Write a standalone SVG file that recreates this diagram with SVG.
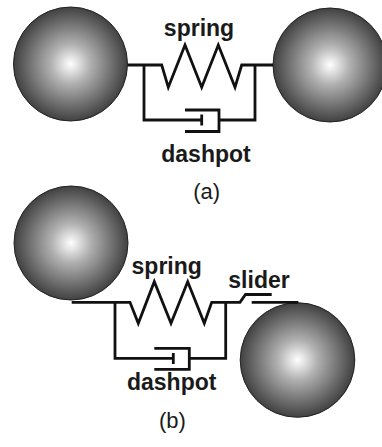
<svg xmlns="http://www.w3.org/2000/svg" width="382" height="447" viewBox="0 0 382 447">
  <style>
    .wire { fill: none; stroke: #111; stroke-width: 2.8; stroke-linejoin: miter; stroke-linecap: butt; }
    .ball { fill: url(#shade); stroke: #222; stroke-width: 1; }
    .lbl { font-family: "Liberation Sans", Arial, sans-serif; font-weight: bold; font-size: 23px; fill: #1a1a1a; text-anchor: middle; }
    .cap { font-family: "Liberation Sans", Arial, sans-serif; font-size: 22px; fill: #1a1a1a; text-anchor: middle; }
  </style>
  <defs>
    <radialGradient id="shade" cx="0.5" cy="0.5" r="0.5">
      <stop offset="0" stop-color="#ffffff"/>
      <stop offset="0.35" stop-color="#b0b0b0"/>
      <stop offset="1" stop-color="#414141"/>
    </radialGradient>
  </defs>
  <rect width="382" height="447" fill="#ffffff"/>

  <!-- (a) two particles joined by a spring and dashpot in parallel -->
  <g id="a-ball-left"><circle class="ball" cx="70.5" cy="64" r="57"/></g>
  <g id="a-ball-right"><circle class="ball" cx="330" cy="65" r="57"/></g>
  <g id="a-connectors">
    <polyline class="wire" points="127.5,65 161.7,65 168.3,87.3 185,45 201.7,87.3 218.3,45 235,87.3 241.7,65 273,65"/>
    <polyline class="wire" points="144,65 144,120 201.7,120"/>
    <line class="wire" x1="201.7" y1="114.5" x2="201.7" y2="125.5"/>
    <polyline class="wire" points="185,110 219,110 219,131.5 185,131.5"/>
    <polyline class="wire" points="219,120 255,120 255,65"/>
  </g>
  <g id="a-labels">
    <text class="lbl" x="199" y="36">spring</text>
    <text class="lbl" x="206" y="161.5">dashpot</text>
    <text class="cap" x="206.7" y="198.5">(a)</text>
  </g>

  <!-- (b) same pair with a slider in series -->
  <g id="b-ball-left"><circle class="ball" cx="71" cy="243" r="57"/></g>
  <g id="b-ball-right"><circle class="ball" cx="297.5" cy="360" r="57.3"/></g>
  <g id="b-connectors">
    <polyline class="wire" points="71.7,302.3 130,302.3 138.3,323.3 154.3,281.7 171,323.3 187.7,281.7 204.3,323.3 211.7,302.3 240,302.3 245.5,294.5 271.7,294.5"/>
    <line class="wire" x1="251.7" y1="302.3" x2="298.3" y2="302.3"/>
    <polyline class="wire" points="115,302.3 115,358.3 173.3,358.3"/>
    <line class="wire" x1="173.3" y1="353" x2="173.3" y2="364"/>
    <polyline class="wire" points="154.3,348.3 189.3,348.3 189.3,369.3 154.3,369.3"/>
    <polyline class="wire" points="189.3,358.3 225.7,358.3 225.7,302.3"/>
  </g>
  <g id="b-labels">
    <text class="lbl" x="166.7" y="274">spring</text>
    <text class="lbl" x="259" y="287.7">slider</text>
    <text class="lbl" x="171.7" y="390">dashpot</text>
    <text class="cap" x="172.5" y="428.3">(b)</text>
  </g>
</svg>
